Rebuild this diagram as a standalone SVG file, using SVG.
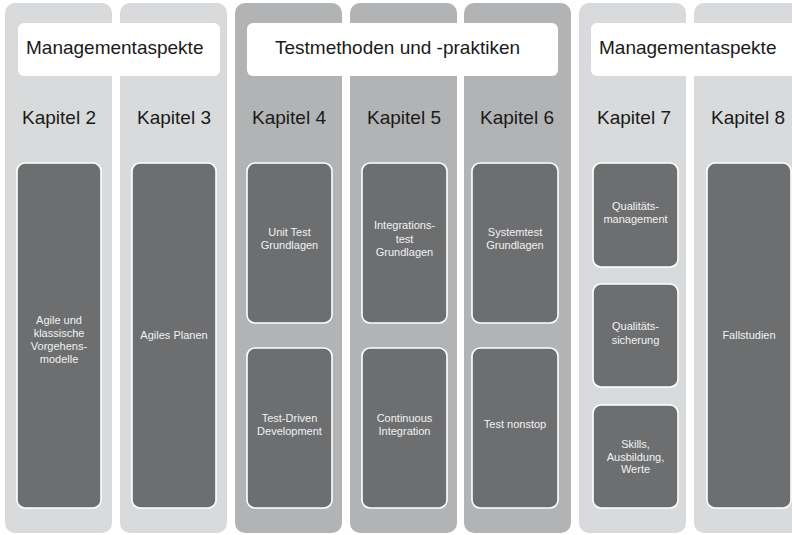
<svg xmlns="http://www.w3.org/2000/svg" width="792" height="535" viewBox="0 0 792 535">
<style>
  .col-light { fill: #d9dadb; }
  .col-mid { fill: #b2b3b4; }
  .hdr { fill: #ffffff; }
  .box { fill: #6d6e70; stroke: #ffffff; stroke-width: 1.6; }
  .h1 { font-family: "Liberation Sans", Arial, sans-serif; font-size: 19px; fill: #1a1a1a; }
  .kap { font-family: "Liberation Sans", Arial, sans-serif; font-size: 19px; fill: #1a1a1a; text-anchor: middle; }
  .bt { font-family: "Liberation Sans", Arial, sans-serif; font-size: 11px; fill: #f2f2f2; text-anchor: middle; }
</style>

<!-- Columns -->
<g id="col-k2"><rect class="col-light" x="5" y="3" width="107" height="530" rx="10"/><text class="kap" x="59" y="124">Kapitel 2</text></g>
<g id="col-k3"><rect class="col-light" x="120" y="3" width="107" height="530" rx="10"/><text class="kap" x="174" y="124">Kapitel 3</text></g>
<g id="col-k4"><rect class="col-mid" x="235" y="3" width="107" height="530" rx="10"/><text class="kap" x="289" y="124">Kapitel 4</text></g>
<g id="col-k5"><rect class="col-mid" x="350" y="3" width="107" height="530" rx="10"/><text class="kap" x="404" y="124">Kapitel 5</text></g>
<g id="col-k6"><rect class="col-mid" x="464" y="3" width="107" height="530" rx="10"/><text class="kap" x="517" y="124">Kapitel 6</text></g>
<g id="col-k7"><rect class="col-light" x="579" y="3" width="107" height="530" rx="10"/><text class="kap" x="634" y="124">Kapitel 7</text></g>
<g id="col-k8"><rect class="col-light" x="694" y="3" width="107" height="530" rx="10"/><text class="kap" x="748" y="124">Kapitel 8</text></g>

<!-- Header labels -->
<g id="hdr-management-left"><rect class="hdr" x="18" y="23" width="202" height="53" rx="6"/><text class="h1" x="26" y="54">Managementaspekte</text></g>
<g id="hdr-testmethoden"><rect class="hdr" x="247" y="23" width="311" height="53" rx="6"/><text class="h1" x="275" y="54">Testmethoden und -praktiken</text></g>
<g id="hdr-management-right"><rect class="hdr" x="591" y="23" width="215" height="53" rx="6"/><text class="h1" x="599" y="54">Managementaspekte</text></g>

<!-- Chapter boxes -->
<g id="box-vorgehensmodelle"><rect class="box" x="17" y="163" width="84" height="345" rx="8"/>
  <text class="bt"><tspan x="59" y="324">Agile und</tspan><tspan x="59" y="337">klassische</tspan><tspan x="59" y="350">Vorgehens-</tspan><tspan x="59" y="363">modelle</tspan></text></g>
<g id="box-agiles-planen"><rect class="box" x="132" y="163" width="84" height="345" rx="8"/>
  <text class="bt" x="174" y="339">Agiles Planen</text></g>

<g id="box-unit-test"><rect class="box" x="247" y="163" width="85" height="160" rx="8"/>
  <text class="bt"><tspan x="289.5" y="236">Unit Test</tspan><tspan x="289.5" y="249">Grundlagen</tspan></text></g>
<g id="box-tdd"><rect class="box" x="247" y="348" width="85" height="160" rx="8"/>
  <text class="bt"><tspan x="289.5" y="422">Test-Driven</tspan><tspan x="289.5" y="435">Development</tspan></text></g>

<g id="box-integrationstest"><rect class="box" x="362" y="163" width="85" height="160" rx="8"/>
  <text class="bt"><tspan x="404.5" y="229">Integrations-</tspan><tspan x="404.5" y="242.5">test</tspan><tspan x="404.5" y="256">Grundlagen</tspan></text></g>
<g id="box-ci"><rect class="box" x="362" y="348" width="85" height="160" rx="8"/>
  <text class="bt"><tspan x="404.5" y="422">Continuous</tspan><tspan x="404.5" y="435">Integration</tspan></text></g>

<g id="box-systemtest"><rect class="box" x="472" y="163" width="86" height="160" rx="8"/>
  <text class="bt"><tspan x="515" y="236">Systemtest</tspan><tspan x="515" y="249">Grundlagen</tspan></text></g>
<g id="box-test-nonstop"><rect class="box" x="472" y="348" width="86" height="160" rx="8"/>
  <text class="bt" x="515" y="428">Test nonstop</text></g>

<g id="box-qm"><rect class="box" x="593" y="163" width="85" height="104" rx="8"/>
  <text class="bt"><tspan x="635.5" y="210">Qualitäts-</tspan><tspan x="635.5" y="223">management</tspan></text></g>
<g id="box-qs"><rect class="box" x="593" y="284" width="85" height="103" rx="8"/>
  <text class="bt"><tspan x="635.5" y="330">Qualitäts-</tspan><tspan x="635.5" y="344">sicherung</tspan></text></g>
<g id="box-skills"><rect class="box" x="593" y="405" width="85" height="103" rx="8"/>
  <text class="bt"><tspan x="635.5" y="448">Skills,</tspan><tspan x="635.5" y="460.5">Ausbildung,</tspan><tspan x="635.5" y="473">Werte</tspan></text></g>

<g id="box-fallstudien"><rect class="box" x="707" y="163" width="84" height="345" rx="8"/>
  <text class="bt" x="749" y="339">Fallstudien</text></g>

<g id="connectors"></g>
</svg>
